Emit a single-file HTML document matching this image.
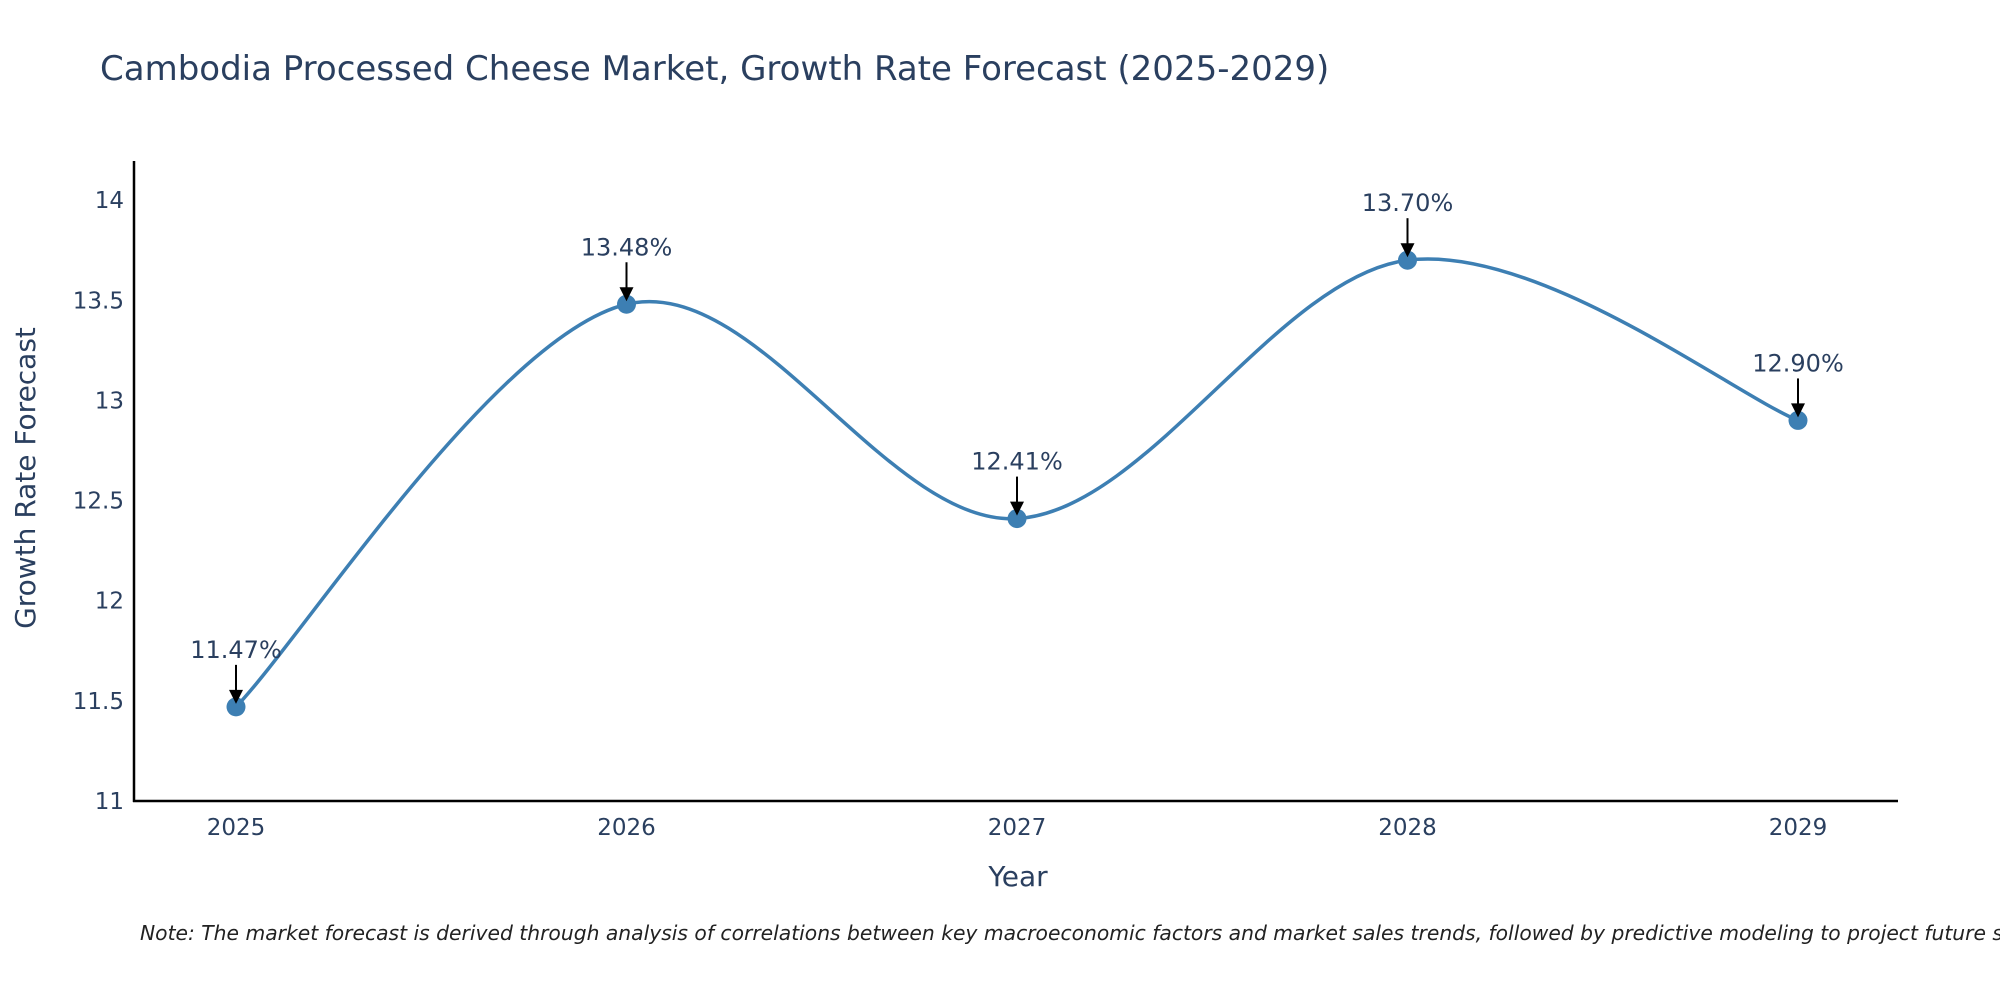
<!DOCTYPE html>
<html><head><meta charset="utf-8"><style>
html,body{margin:0;padding:0;background:#fff;width:2000px;height:1000px;overflow:hidden}
svg{display:block;font-family:"DejaVu Sans","Liberation Sans",sans-serif}
</style></head><body>
<svg id="chart" width="2000" height="1000" viewBox="0 0 2000 1000">
<text x="100" y="80" font-size="34" fill="#2a3f5f">Cambodia Processed Cheese Market, Growth Rate Forecast (2025-2029)</text>
<g id="yticks"></g>
<g id="xticks"></g>
<line x1="134" y1="161" x2="134" y2="802" stroke="#000" stroke-width="2.5"/>
<line x1="133" y1="801" x2="1898" y2="801" stroke="#000" stroke-width="2.5"/>
<path id="line" fill="none" stroke="#3d7fb3" stroke-width="3.5"/>
<g id="points"></g>
<g id="annos"></g>
<text x="1018" y="886" font-size="28" fill="#2a3f5f" text-anchor="middle">Year</text>
<text transform="translate(35,478) rotate(-90)" font-size="28" fill="#2a3f5f" text-anchor="middle">Growth Rate Forecast</text>
<text x="140" y="940" font-size="20.3" font-style="italic" fill="#222">Note: The market forecast is derived through analysis of correlations between key macroeconomic factors and market sales trends, followed by predictive modeling to project future sales.</text>
</svg>
<script>
const years = ["2025","2026","2027","2028","2029"];
const values = [11.47, 13.48, 12.41, 13.70, 12.90];
const yTickValues = [11, 11.5, 12, 12.5, 13, 13.5, 14];
const yTickLabels = ["11","11.5","12","12.5","13","13.5","14"];
const NS = "http://www.w3.org/2000/svg";
const xs = i => 236 + i * 390.5;
const ys = v => 801 - (v - 11) * 200.3;
function mk(tag, attrs, parent){const e=document.createElementNS(NS,tag);for(const k in attrs)e.setAttribute(k,attrs[k]);parent.appendChild(e);return e;}
const yt=document.getElementById('yticks');
yTickValues.forEach((v,i)=>{const t=mk('text',{x:124,y:ys(v)+8,'font-size':23,fill:'#2a3f5f','text-anchor':'end'},yt);t.textContent=yTickLabels[i];

});
const xt=document.getElementById('xticks');
years.forEach((y,i)=>{const t=mk('text',{x:xs(i),y:835,'font-size':23,fill:'#2a3f5f','text-anchor':'middle'},xt);t.textContent=y;

});
const P=values.map((v,i)=>[xs(i),ys(v)]);
let d=`M${P[0][0]},${P[0][1]}`;
for(let i=0;i<P.length-1;i++){const p0=P[Math.max(0,i-1)],p1=P[i],p2=P[i+1],p3=P[Math.min(P.length-1,i+2)];
const k=1/6;
const c1=[p1[0]+(p2[0]-p0[0])*k,p1[1]+(p2[1]-p0[1])*k],c2=[p2[0]-(p3[0]-p1[0])*k,p2[1]-(p3[1]-p1[1])*k];
d+=` C${c1[0]},${c1[1]} ${c2[0]},${c2[1]} ${p2[0]},${p2[1]}`;}
document.getElementById('line').setAttribute('d',d);
const pg=document.getElementById('points'),ag=document.getElementById('annos');
P.forEach((p,i)=>{const c=mk('circle',{cx:p[0],cy:p[1],r:9.5,fill:'#3d7fb3'},pg);


const l=mk('line',{x1:p[0],y1:p[1]-42,x2:p[0],y2:p[1]-14,stroke:'#000','stroke-width':2},ag);


const h=mk('polygon',{points:`${p[0]-7},${p[1]-17} ${p[0]+7},${p[1]-17} ${p[0]},${p[1]-3}`,fill:'#000'},ag);


const t=mk('text',{x:p[0],y:p[1]-49,'font-size':24,fill:'#2a3f5f','text-anchor':'middle'},ag);t.textContent=values[i].toFixed(2)+'%';

});
</script>
</body></html>
